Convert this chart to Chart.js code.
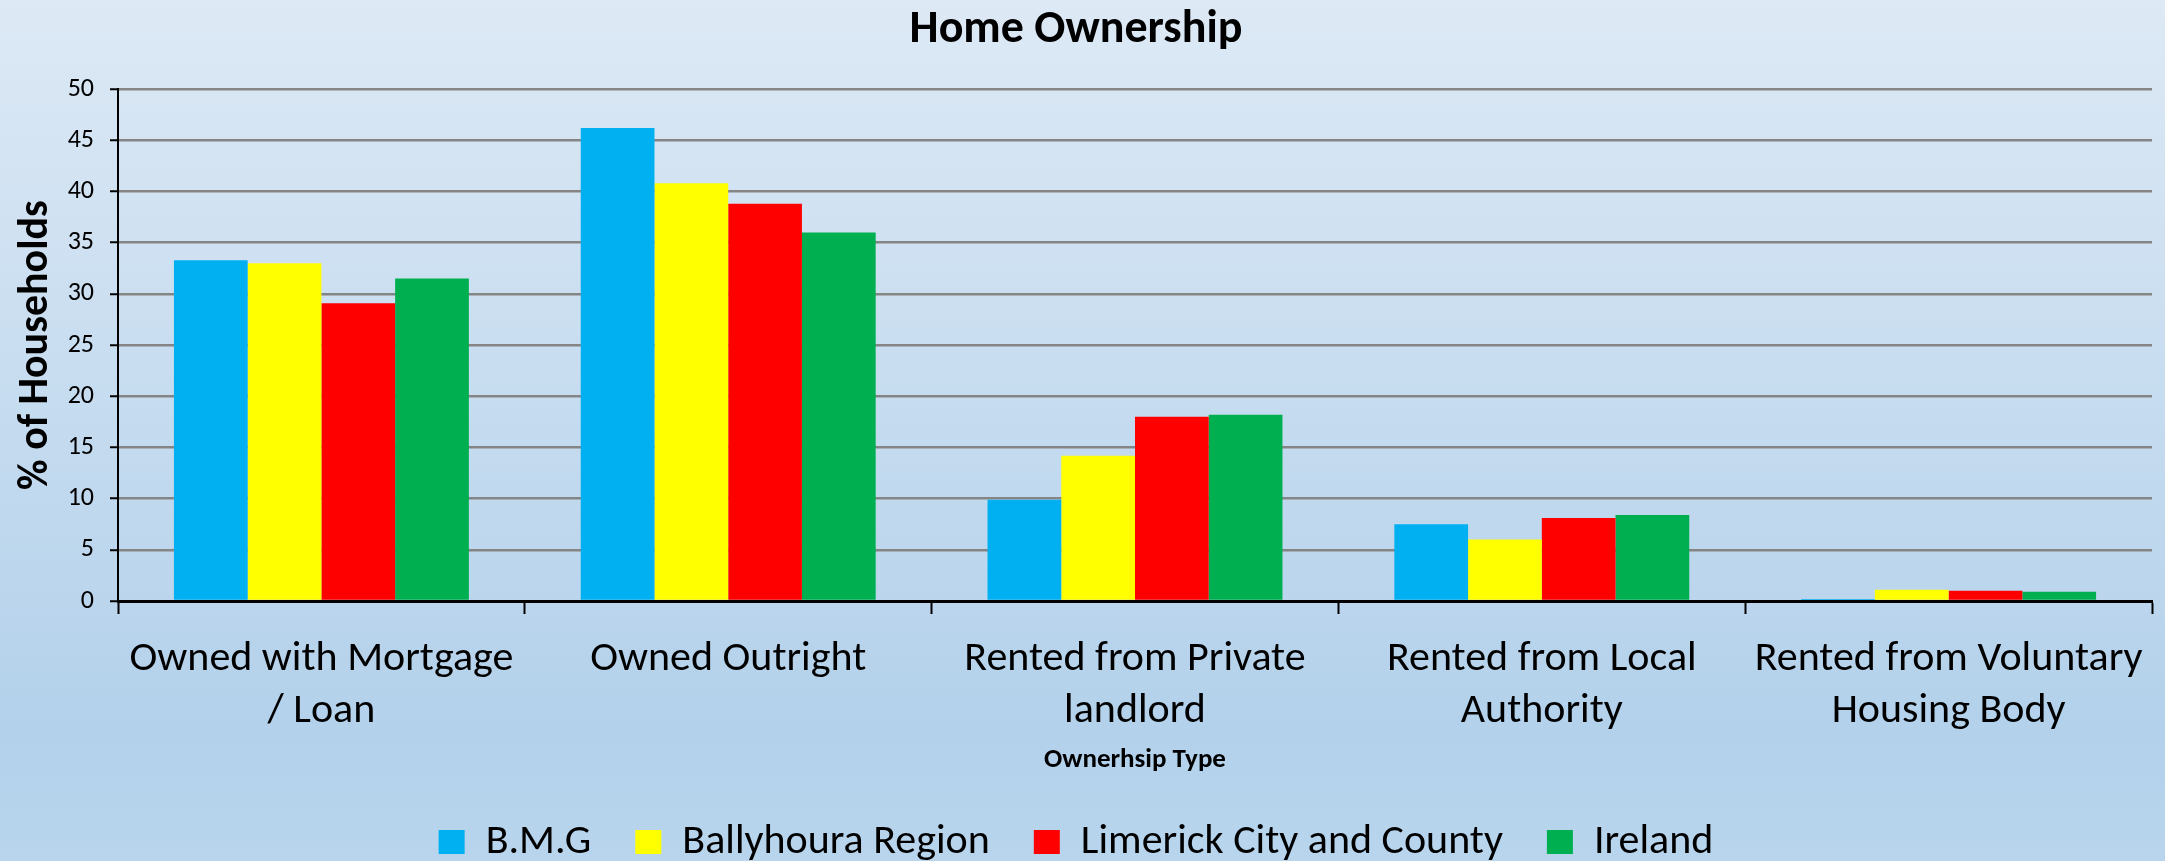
<!DOCTYPE html>
<html>
<head>
<meta charset="utf-8">
<script src="https://cdn.jsdelivr.net/npm/chart.js@4.4.1/dist/chart.umd.min.js"></script>
<style>
  html, body { margin: 0; padding: 0; }
  #wrap { width: 2165px; height: 861px; }
</style>
</head>
<body>
<div id="wrap"><canvas id="chart"></canvas></div>
<script>
const categories = [
  ['Owned with Mortgage', '/ Loan'],
  ['Owned Outright'],
  ['Rented from Private', 'landlord'],
  ['Rented from Local', 'Authority'],
  ['Rented from Voluntary', 'Housing Body']
];
const bmg = [33.3, 46.2, 9.9, 7.5, 0.2];
const ballyhoura = [33.0, 40.8, 14.2, 6.0, 1.1];
const limerick = [29.1, 38.8, 18.0, 8.1, 1.0];
const ireland = [31.5, 36.0, 18.2, 8.4, 0.9];
const yTicks = [0, 5, 10, 15, 20, 25, 30, 35, 40, 45, 50];

const FONT = 'Carlito, Lato, "Open Sans", sans-serif';

// light blue gradient behind everything
const bgPlugin = {
  id: 'bg',
  beforeDraw(chart) {
    const { ctx, width, height } = chart;
    const g = ctx.createLinearGradient(0, 0, 0, height);
    g.addColorStop(0, '#dde9f5');
    g.addColorStop(0.85, '#b3d1eb');
    g.addColorStop(1, '#b8d5ed');
    ctx.save();
    ctx.fillStyle = g;
    ctx.fillRect(0, 0, width, height);
    ctx.restore();
  }
};

new Chart(document.getElementById('chart'), {
  type: 'bar',
  data: {
    labels: categories,
    datasets: [
      { label: 'B.M.G', data: bmg, backgroundColor: '#00b0f0' },
      { label: 'Ballyhoura Region', data: ballyhoura, backgroundColor: '#ffff00' },
      { label: 'Limerick City and County', data: limerick, backgroundColor: '#ff0000' },
      { label: 'Ireland', data: ireland, backgroundColor: '#00b050' }
    ]
  },
  options: {
    responsive: true,
    maintainAspectRatio: false,
    animation: false,
    layout: { padding: { left: 0, right: 13, top: 0, bottom: -12 } },
    datasets: { bar: { categoryPercentage: 0.725, barPercentage: 1.0 } },
    plugins: {
      title: {
        display: true,
        text: 'Home Ownership',
        color: '#000',
        font: { family: FONT, size: 46, weight: 'bold' },
        padding: { top: 3, bottom: 31 }
      },
      legend: {
        position: 'bottom',
        labels: {
          color: '#000',
          font: { family: FONT, size: 42 },
          boxWidth: 26,
          boxHeight: 24,
          padding: 44
        }
      },
      tooltip: { enabled: false }
    },
    scales: {
      x: {
        afterFit(scale) { scale.height = 176; },
        grid: {
          offset: true,
          drawOnChartArea: false,
          tickLength: 13,
          tickColor: '#000',
          tickWidth: 2
        },
        border: { color: '#000', width: 3 },
        ticks: {
          color: '#000',
          font: { family: FONT, size: 42, lineHeight: 1.25 },
          padding: 19,
          maxRotation: 0,
          autoSkip: false
        },
        title: {
          display: true,
          text: 'Ownerhsip Type',
          color: '#000',
          font: { family: FONT, size: 27, weight: 'bold' },
          padding: { top: 10, bottom: 1 }
        }
      },
      y: {
        min: 0,
        max: 50,
        afterBuildTicks(scale) {
          scale.ticks = yTicks.map(v => ({ value: v }));
        },
        afterFit(scale) { scale.width = 118; },
        grid: {
          color: '#858585',
          lineWidth: 2.5,
          tickLength: 8,
          tickColor: '#000',
          tickWidth: 2
        },
        border: { color: '#000', width: 2 },
        ticks: {
          color: '#000',
          font: { family: FONT, size: 26 },
          padding: 16
        },
        title: {
          display: true,
          text: '% of Households',
          color: '#000',
          font: { family: FONT, size: 42, weight: 'bold' },
          padding: { top: 11, bottom: 4 }
        }
      }
    }
  },
  plugins: [bgPlugin]
});
</script>
</body>
</html>
